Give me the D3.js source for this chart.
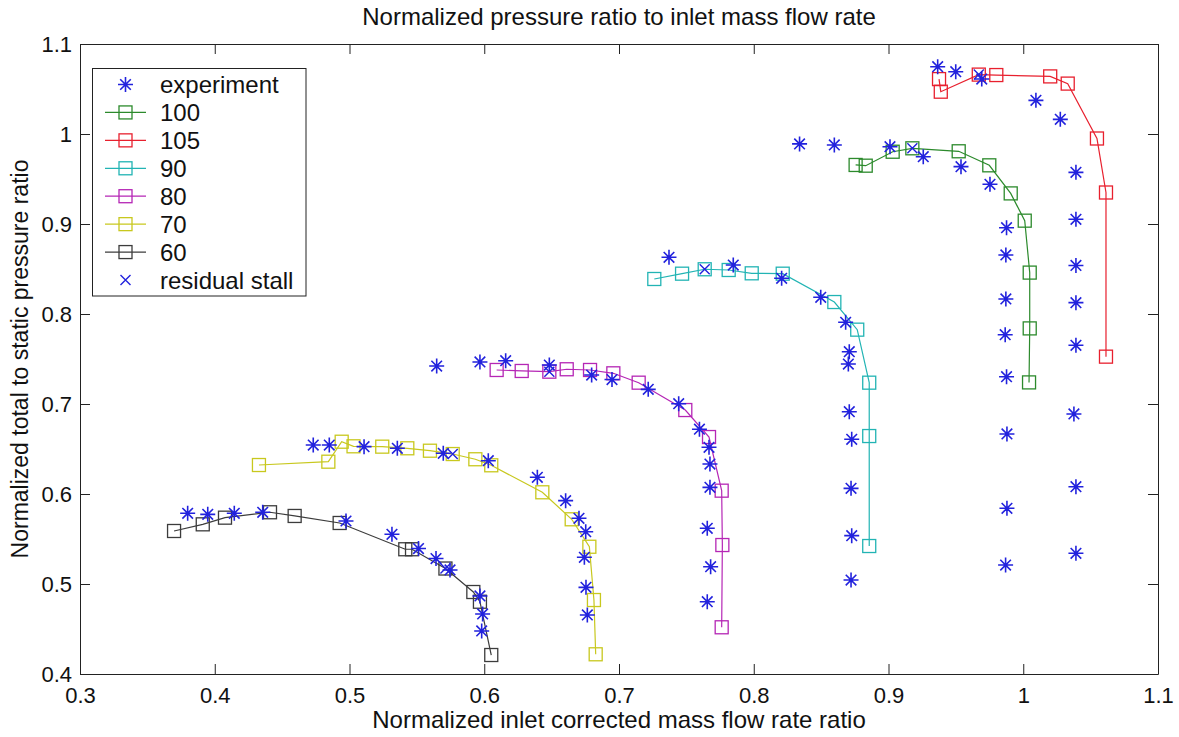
<!DOCTYPE html>
<html>
<head>
  <meta charset="utf-8">
  <script src="https://cdn.jsdelivr.net/npm/d3@7"></script>
  <style>
    body { margin: 0; background: #fff; }
    svg text { font-family: "Liberation Sans", Arial, sans-serif; fill: #111; }
  </style>
</head>
<body>
<script type="text/javascript">
  // ---- data ----
  var xTicks = [0.3, 0.4, 0.5, 0.6, 0.7, 0.8, 0.9, 1.0, 1.1];
  var xTickLabels = ["0.3", "0.4", "0.5", "0.6", "0.7", "0.8", "0.9", "1", "1.1"];
  var yTicks = [0.4, 0.5, 0.6, 0.7, 0.8, 0.9, 1.0, 1.1];
  var yTickLabels = ["0.4", "0.5", "0.6", "0.7", "0.8", "0.9", "1", "1.1"];

  var speed100 = [[0.8756,0.9656],[0.8831,0.9648],[0.9031,0.9803],[0.9177,0.9841],[0.9521,0.9808],
    [0.9748,0.9652],[0.9907,0.934],[1.0011,0.9037],[1.0048,0.846],[1.0048,0.784],[1.0043,0.724]];
  var speed105 = [[0.9375,1.061],[0.9388,1.047],[0.967,1.066],[0.980,1.0655],[1.020,1.064],
    [1.033,1.056],[1.0547,0.995],[1.0614,0.935],[1.0614,0.7526]];
  var speed90 = [[0.7262,0.8389],[0.7468,0.8448],[0.7636,0.8497],[0.7814,0.8489],[0.7985,0.8452],
    [0.8215,0.8448],[0.8598,0.8133],[0.8768,0.7826],[0.8857,0.7237],[0.8857,0.6644],[0.8857,0.5422]];
  var speed80 = [[0.6092,0.7378],[0.6278,0.7367],[0.6483,0.7359],[0.6612,0.7386],[0.6785,0.7378],
    [0.6958,0.7341],[0.7146,0.7237],[0.7492,0.6933],[0.7668,0.6633],[0.7762,0.6037],[0.7767,0.5433],[0.7762,0.4519]];
  var speed70 = [[0.4328,0.6322],[0.4843,0.6359],[0.4942,0.6581],[0.5030,0.6530],[0.5243,0.6526],
    [0.5429,0.6508],[0.5597,0.6481],[0.5766,0.6444],[0.5934,0.6386],[0.6052,0.6319],[0.6431,0.6019],
    [0.6649,0.5719],[0.678,0.5414],[0.6814,0.4822],[0.6827,0.4219]];
  var speed60 = [[0.3698,0.5589],[0.3911,0.5663],[0.4076,0.5737],[0.441,0.5797],[0.4593,0.5756],
    [0.4927,0.5678],[0.5414,0.5386],[0.5464,0.5386],[0.5712,0.5172],[0.5919,0.4911],[0.5968,0.4803],[0.6052,0.4211]];

  var experiment = [
    [0.9365,1.0748],[0.9499,1.0692],[0.9692,1.0611],[1.0094,1.0374],[1.0275,1.0163],
    [1.0391,0.9574],[1.0391,0.9052],[1.0391,0.8539],[1.0391,0.8126],[1.0391,0.7652],[1.0376,0.6889],[1.0391,0.6081],[1.0391,0.5341],
    [0.834,0.989],[0.8598,0.9878],[0.9011,0.9859],[0.9258,0.9748],[0.9538,0.9637],[0.9753,0.9441],
    [0.9876,0.8959],[0.9871,0.8656],[0.9871,0.8167],[0.9866,0.777],[0.9876,0.7303],[0.9879,0.6667],[0.9879,0.5841],[0.9869,0.5211],
    [0.7371,0.863],[0.7848,0.8544],[0.8207,0.8397],[0.8497,0.8186],[0.8682,0.7908],[0.8709,0.7581],[0.8702,0.7444],
    [0.8709,0.6914],[0.8727,0.6608],[0.8722,0.6063],[0.8727,0.5537],[0.8722,0.5044],
    [0.5647,0.7422],[0.5968,0.7467],[0.6159,0.7481],[0.6483,0.7433],[0.6797,0.7322],[0.6948,0.7272],[0.7217,0.7163],
    [0.7443,0.7003],[0.7597,0.672],[0.7668,0.6519],[0.7675,0.6333],[0.7675,0.6074],[0.7655,0.5619],[0.768,0.5192],[0.7655,0.4803],
    [0.4731,0.6544],[0.485,0.6544],[0.5108,0.6526],[0.5355,0.6508],[0.5696,0.6452],[0.603,0.637],[0.6394,0.6186],
    [0.6604,0.5926],[0.6703,0.573],[0.6753,0.5581],[0.6743,0.5297],[0.6755,0.4963],[0.6765,0.4656],
    [0.3799,0.5786],[0.3948,0.5774],[0.4145,0.5786],[0.4356,0.5797],[0.4974,0.57],[0.5315,0.5552],
    [0.5512,0.5394],[0.5642,0.5283],[0.5746,0.5156],[0.5968,0.4867],[0.5988,0.4667],[0.5981,0.4478]
  ];
  var residualStall = [[0.967,1.066],[0.9177,0.9841],[0.7636,0.8497],[0.6483,0.7359],[0.5766,0.6444],[0.5712,0.5172]];

  var speedNames = ["100", "105", "90", "80", "70", "60"];
  var speedColors = ["#2c8a2c", "#e8202e", "#22b4b4", "#b526b5", "#c8c81e", "#3c3c3c"];
  var speedData = [speed100, speed105, speed90, speed80, speed70, speed60];
  var starColor = "#2222dd";

  // ---- layout ----
  var W = 1179, H = 737;
  var L = 80, R = 1158, T = 44, B = 674;

  var svg = d3.select("body").append("svg").attr("width", W).attr("height", H);

  var x = d3.scaleLinear().domain([0.3, 1.1]).range([L, R]);
  var y = d3.scaleLinear().domain([0.4, 1.1]).range([B, T]);

  // axes, ticks inward on all four sides
  function fmt(ticks, labels) { return function (d) { return labels[ticks.indexOf(d)]; }; }

  svg.append("g").attr("transform", "translate(0," + B + ")")
    .call(d3.axisBottom(x).tickValues(xTicks).tickFormat(fmt(xTicks, xTickLabels))
      .tickSizeInner(-10).tickSizeOuter(0).tickPadding(13))
    .call(function (g) { g.selectAll("text").style("font-size", "22px"); });
  svg.append("g").attr("transform", "translate(0," + T + ")")
    .call(d3.axisTop(x).tickValues(xTicks).tickFormat("").tickSizeInner(-10).tickSizeOuter(0));
  svg.append("g").attr("transform", "translate(" + L + ",0)")
    .call(d3.axisLeft(y).tickValues(yTicks).tickFormat(fmt(yTicks, yTickLabels))
      .tickSizeInner(-10).tickSizeOuter(0).tickPadding(8))
    .call(function (g) { g.selectAll("text").style("font-size", "22px"); });
  svg.append("g").attr("transform", "translate(" + R + ",0)")
    .call(d3.axisRight(y).tickValues(yTicks).tickFormat("").tickSizeInner(-10).tickSizeOuter(0));
  svg.selectAll(".domain, .tick line").attr("stroke", "#222");

  // markers
  function star(g, cx, cy, r) {
    var a = r * 0.7071;
    g.append("path")
      .attr("d", "M" + (cx - r) + "," + cy + "H" + (cx + r) +
                 "M" + cx + "," + (cy - r) + "V" + (cy + r) +
                 "M" + (cx - a) + "," + (cy - a) + "L" + (cx + a) + "," + (cy + a) +
                 "M" + (cx - a) + "," + (cy + a) + "L" + (cx + a) + "," + (cy - a))
      .attr("stroke", starColor).attr("stroke-width", 1.6).attr("fill", "none");
  }
  function cross(g, cx, cy, r) {
    g.append("path")
      .attr("d", "M" + (cx - r) + "," + (cy - r) + "L" + (cx + r) + "," + (cy + r) +
                 "M" + (cx - r) + "," + (cy + r) + "L" + (cx + r) + "," + (cy - r))
      .attr("stroke", starColor).attr("stroke-width", 1.4).attr("fill", "none");
  }

  var plot = svg.append("g");
  var line = d3.line().x(function (d) { return x(d[0]); }).y(function (d) { return y(d[1]); });

  speedData.forEach(function (s, i) {
    plot.append("path").datum(s).attr("d", line)
      .attr("fill", "none").attr("stroke", speedColors[i]).attr("stroke-width", 1.2);
    plot.selectAll(null).data(s).enter().append("rect")
      .attr("x", function (d) { return x(d[0]) - 6.5; })
      .attr("y", function (d) { return y(d[1]) - 6.5; })
      .attr("width", 13).attr("height", 13)
      .attr("fill", "none").attr("stroke", speedColors[i]).attr("stroke-width", 1.3);
  });

  experiment.forEach(function (d) { star(plot, x(d[0]), y(d[1]), 7.5); });
  residualStall.forEach(function (d) { cross(plot, x(d[0]), y(d[1]), 5); });

  // legend
  var lg = svg.append("g");
  lg.append("rect").attr("x", 92.5).attr("y", 68.5).attr("width", 213.5).attr("height", 227.5)
    .attr("fill", "#fff").attr("stroke", "#222");
  var rowY = d3.scaleLinear().domain([0, 7]).range([84.5, 280]);
  star(lg, 125.5, rowY(0), 7.5);
  lg.append("text").attr("x", 160).attr("y", rowY(0)).attr("dy", "0.36em")
    .style("font-size", "24px").text("experiment");
  speedNames.forEach(function (n, i) {
    var yy = rowY(i + 1);
    lg.append("line").attr("x1", 105).attr("x2", 146).attr("y1", yy).attr("y2", yy)
      .attr("stroke", speedColors[i]).attr("stroke-width", 1.2);
    lg.append("rect").attr("x", 125.5 - 6.5).attr("y", yy - 6.5).attr("width", 13).attr("height", 13)
      .attr("fill", "none").attr("stroke", speedColors[i]).attr("stroke-width", 1.3);
    lg.append("text").attr("x", 160).attr("y", yy).attr("dy", "0.36em")
      .style("font-size", "24px").text(n);
  });
  cross(lg, 125.5, rowY(7), 5);
  lg.append("text").attr("x", 160).attr("y", rowY(7)).attr("dy", "0.36em")
    .style("font-size", "24px").text("residual stall");

  // titles
  svg.append("text").attr("x", (L + R) / 2).attr("y", 25).attr("text-anchor", "middle")
    .style("font-size", "24px").text("Normalized pressure ratio to inlet mass flow rate");
  svg.append("text").attr("x", (L + R) / 2).attr("y", 728).attr("text-anchor", "middle")
    .style("font-size", "24px").text("Normalized inlet corrected mass flow rate ratio");
  svg.append("text").attr("transform", "translate(28," + (T + B) / 2 + ") rotate(-90)")
    .attr("text-anchor", "middle")
    .style("font-size", "23px").text("Normalized total to static pressure ratio");
</script>
</body>
</html>
